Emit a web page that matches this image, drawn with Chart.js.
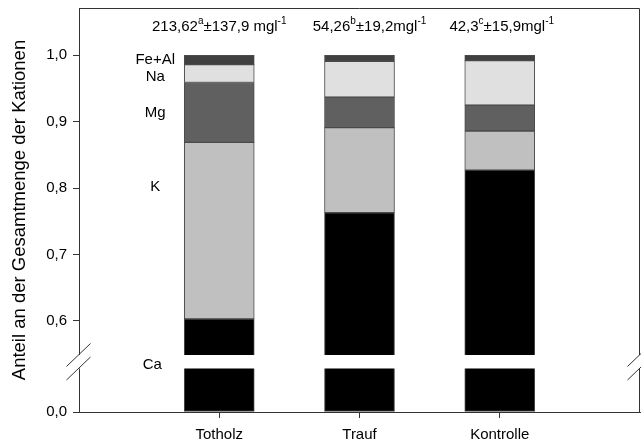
<!DOCTYPE html>
<html>
<head>
<meta charset="utf-8">
<script src="https://cdn.jsdelivr.net/npm/chart.js@4/dist/chart.umd.min.js"></script>
<style>
  html, body { margin: 0; padding: 0; background: #fff; }
  #wrap { position: relative; width: 641px; height: 443px; }
</style>
</head>
<body>
<div id="wrap"><canvas id="chart" width="641" height="443"></canvas></div>
<script>
// Cation shares per site (fractions of the total cation load)
const categories = ['Totholz', 'Trauf', 'Kontrolle'];
const ca   = [0.603, 0.763, 0.827];
const k    = [0.266, 0.128, 0.059];
const mg   = [0.090, 0.046, 0.039];
const na   = [0.027, 0.054, 0.067];
const feAl = [0.014, 0.009, 0.008];

// Total cation concentration above each bar: mean, group letter, standard deviation
const concMean  = ['213,62', '54,26', '42,3'];
const concGroup = ['a', 'b', 'c'];
const concSd    = ['137,9 ', '19,2', '15,9'];

// Value axis
const yTicks = [0.0, 0.6, 0.7, 0.8, 0.9, 1.0];
const yMax = 1.0712;
const axisBreak = [0.0655, 0.5488];   // range left out of the value axis

const FONT = '"Liberation Sans", Arial, Helvetica, sans-serif';
const LINE = '#333333';

// Linear scale with a gap in its value range
class BrokenLinearScale extends Chart.LinearScale {
  static id = 'brokenLinear';
  static defaults = Chart.LinearScale.defaults;

  _geom() {
    const [lo, hi] = this.options.breakRange;
    const gap = this.options.breakGap;
    const span = (lo - this.min) + (this.max - hi);
    const unit = (this.bottom - this.top - gap) / span;
    const yLo = this.bottom - (lo - this.min) * unit;
    return { lo, hi, gap, unit, yLo };
  }
  getPixelForValue(v) {
    if (v === null || v === undefined || isNaN(v)) return NaN;
    const { lo, hi, gap, unit, yLo } = this._geom();
    if (v <= lo) return this.bottom - (v - this.min) * unit;
    if (v >= hi) return yLo - gap - (v - hi) * unit;
    return yLo - gap * (v - lo) / (hi - lo);
  }
  getValueForPixel(p) {
    const { lo, hi, gap, unit, yLo } = this._geom();
    if (p >= yLo) return this.min + (this.bottom - p) / unit;
    if (p <= yLo - gap) return hi + (yLo - gap - p) / unit;
    return lo + (yLo - p) / gap * (hi - lo);
  }
}
Chart.register(BrokenLinearScale);

const toPoints = arr => arr.map((v, i) => ({ x: i + 1, y: v }));

function series(label, values, color) {
  return {
    label,
    data: toPoints(values),
    backgroundColor: color,
    borderColor: '#4a4a4a',
    borderWidth: 1,
    borderSkipped: false,
    barThickness: 70,
    clip: 0
  };
}

function drawRich(ctx, parts, cx, baseline, size) {
  const supSize = Math.round(size * 0.68);
  let w = 0;
  parts.forEach(p => {
    ctx.font = (p.sup ? supSize : size) + 'px ' + FONT;
    p.w = ctx.measureText(p.t).width;
    w += p.w;
  });
  let x = cx - w / 2;
  ctx.textAlign = 'left';
  ctx.textBaseline = 'alphabetic';
  parts.forEach(p => {
    ctx.font = (p.sup ? supSize : size) + 'px ' + FONT;
    ctx.fillText(p.t, x, p.sup ? baseline - size * 0.42 : baseline);
    x += p.w;
  });
}

// Frame, axis break, segment captions and concentration notes
const decorations = {
  id: 'decorations',
  afterDraw(chart) {
    const { ctx, chartArea: a, scales: { x, y } } = chart;
    const yHi = y.getPixelForValue(axisBreak[1]);
    const yLo = y.getPixelForValue(axisBreak[0]);
    ctx.save();

    // top and right frame
    ctx.strokeStyle = LINE;
    ctx.lineWidth = 1;
    ctx.beginPath();
    ctx.moveTo(a.left, a.top + 0.5);
    ctx.lineTo(a.right - 0.5, a.top + 0.5);
    ctx.lineTo(a.right - 0.5, a.bottom);
    ctx.stroke();

    // blank band of the axis break
    ctx.fillStyle = '#ffffff';
    ctx.fillRect(a.left - 3, yHi, a.right - a.left + 6, yLo - yHi);

    // break marks on both vertical axes
    ctx.strokeStyle = LINE;
    [a.left - 0.5, a.right - 0.5].forEach(ax => {
      [yHi, yLo].forEach(py => {
        ctx.beginPath();
        ctx.moveTo(ax - 12, py + 11.5);
        ctx.lineTo(ax + 12, py - 11.5);
        ctx.stroke();
      });
    });

    // segment captions beside the first bar
    ctx.fillStyle = '#000';
    ctx.font = '15px ' + FONT;
    ctx.textAlign = 'center';
    ctx.textBaseline = 'middle';
    const capX = x.getPixelForValue(1) - 64;
    [['Fe+Al', 0.993], ['Na', 0.968], ['Mg', 0.913], ['K', 0.802]].forEach(([t, v]) => {
      ctx.fillText(t, capX, y.getPixelForValue(v));
    });
    ctx.fillText('Ca', capX - 3, (yHi + yLo) / 2 + 3);

    // concentration notes
    const noteShift = [0, 10, 2];
    categories.forEach((c, i) => {
      drawRich(ctx, [
        { t: concMean[i] },
        { t: concGroup[i], sup: true },
        { t: '\u00b1' + concSd[i] + 'mgl' },
        { t: '-1', sup: true }
      ], x.getPixelForValue(i + 1) + noteShift[i], 30.5, 15);
    });
    ctx.restore();
  }
};

new Chart(document.getElementById('chart'), {
  type: 'bar',
  data: {
    datasets: [
      series('Ca', ca, '#000000'),
      series('K', k, '#c0c0c0'),
      series('Mg', mg, '#606060'),
      series('Na', na, '#e0e0e0'),
      series('Fe+Al', feAl, '#404040')
    ]
  },
  options: {
    responsive: false,
    animation: false,
    layout: { padding: { left: 0, top: 8, right: 1, bottom: 0 } },
    plugins: { legend: { display: false }, tooltip: { enabled: false } },
    scales: {
      x: {
        type: 'linear',
        stacked: true,
        offset: false,
        min: 0,
        max: categories.length + 1,
        afterBuildTicks: s => { s.ticks = categories.map((c, i) => ({ value: i + 1 })); },
        afterFit: s => { s.height = 31; s.paddingLeft = 0; s.paddingRight = 0; },
        ticks: {
          autoSkip: false,
          maxRotation: 0,
          padding: 8,
          color: '#000',
          font: { family: FONT, size: 15 },
          callback: v => categories[v - 1]
        },
        grid: { offset: false, drawOnChartArea: false, drawTicks: true, tickLength: 6, color: LINE },
        border: { display: true, color: LINE, width: 1 }
      },
      y: {
        type: 'brokenLinear',
        stacked: true,
        min: 0,
        max: yMax,
        breakRange: axisBreak,
        breakGap: 13.5,
        afterBuildTicks: s => { s.ticks = yTicks.map(v => ({ value: v })); },
        afterFit: s => { s.width = 79; s.paddingTop = 0; s.paddingBottom = 0; },
        ticks: {
          padding: 6,
          color: '#000',
          font: { family: FONT, size: 15 },
          callback: v => v.toFixed(1).replace('.', ',')
        },
        grid: { drawOnChartArea: false, drawTicks: true, tickLength: 6, color: LINE },
        border: { display: true, color: LINE, width: 1 },
        title: {
          display: true,
          text: 'Anteil an der Gesamtmenge der Kationen',
          color: '#000',
          font: { family: FONT, size: 18.5 },
          padding: { top: 9, bottom: 0 }
        }
      }
    }
  },
  plugins: [decorations]
});
</script>
</body>
</html>
